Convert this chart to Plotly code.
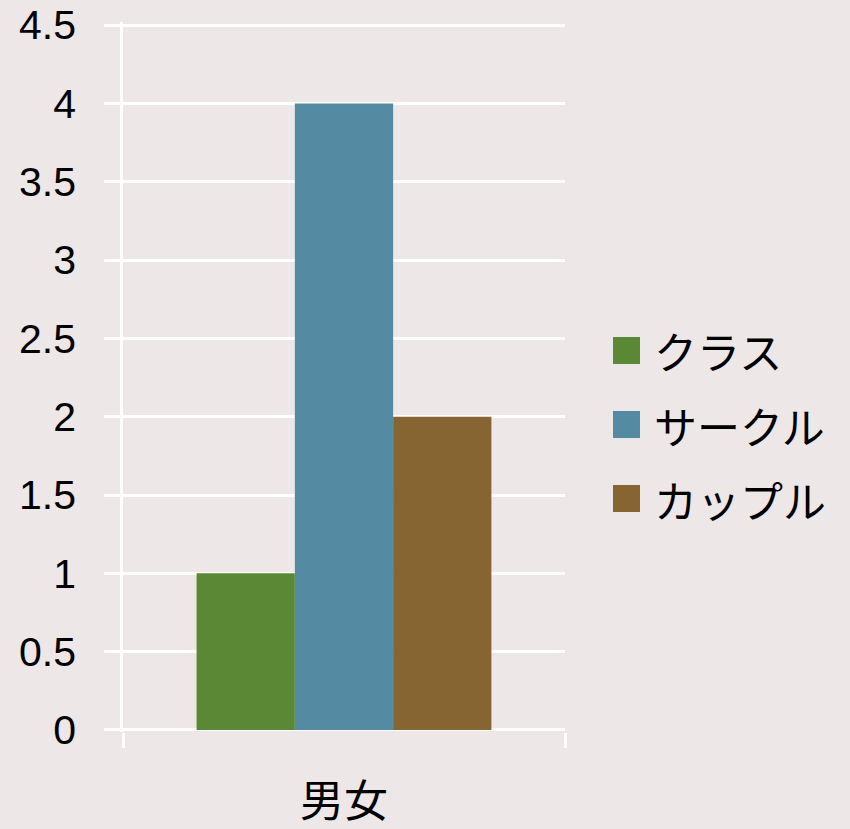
import plotly.graph_objects as go

categories = ["男女"]
series_names = ["クラス", "サークル", "カップル"]
series_values = [[1], [4], [2]]
colors = ["#5B8834", "#548BA3", "#866532"]
y_ticks = [0, 0.5, 1, 1.5, 2, 2.5, 3, 3.5, 4, 4.5]
y_tick_labels = ["0", "0.5", "1", "1.5", "2", "2.5", "3", "3.5", "4", "4.5"]

FONT = "Noto Sans CJK JP"
NUM_FONT = "Liberation Sans"
BG = "#EDE7E7"

fig = go.Figure()
for name, vals, col in zip(series_names, series_values, colors):
    fig.add_trace(go.Bar(x=categories, y=vals, name=name, marker=dict(color=col, line=dict(width=0)),
                         showlegend=False))

W, H = 850, 829
ml, mr, mt, mb = 123, 285, 22, 97
pw, ph = W - ml - mr, H - mt - mb
def px_x(x):
    return (x - ml) / pw
def px_y(y):
    return 1 - (y - mt) / ph

# custom legend (large square swatches)
legend_centers = [350.5, 424.5, 498.5]
for name, col, cy in zip(series_names, colors, legend_centers):
    fig.add_shape(type="rect", xref="paper", yref="paper",
                  x0=px_x(613), x1=px_x(640), y0=px_y(cy + 13.5), y1=px_y(cy - 13.5),
                  fillcolor=col, line=dict(width=0))
    fig.add_annotation(xref="paper", yref="paper", x=px_x(652), y=px_y(cy), text=name,
                       showarrow=False, xanchor="left", yanchor="middle",
                       font=dict(family=FONT, size=43, color="#000000"))

fig.update_layout(
    width=W, height=H,
    margin=dict(l=ml, r=mr, t=mt, b=mb, autoexpand=False),
    paper_bgcolor=BG, plot_bgcolor=BG,
    barmode="group", bargap=0.333, bargroupgap=0,
    font=dict(family=FONT, color="#000000"),
    showlegend=False,
)
fig.update_xaxes(
    type="category", tickson="boundaries", ticks="outside", ticklen=15, tickwidth=2.5,
    tickcolor="white", showline=False, showgrid=False, zeroline=False, automargin=False,
    tickfont=dict(family=FONT, size=44, color="#000000"), ticklabelstandoff=40,
    ticklabeloverflow="allow",
)
fig.update_yaxes(
    range=[-0.013, 4.52], tickvals=y_ticks, ticktext=y_tick_labels,
    ticks="outside", ticklen=16, tickwidth=2.5, tickcolor="white",
    showline=True, linecolor="white", linewidth=2.5,
    showgrid=True, gridcolor="white", gridwidth=2.5, zeroline=False, automargin=False,
    tickfont=dict(family=NUM_FONT, size=41, color="#000000"), ticklabelstandoff=20,
    ticklabeloverflow="allow",
)

fig.write_html("out.html", config={"displayModeBar": False},
               post_script="document.body.style.margin='0';document.body.style.overflow='hidden';")
